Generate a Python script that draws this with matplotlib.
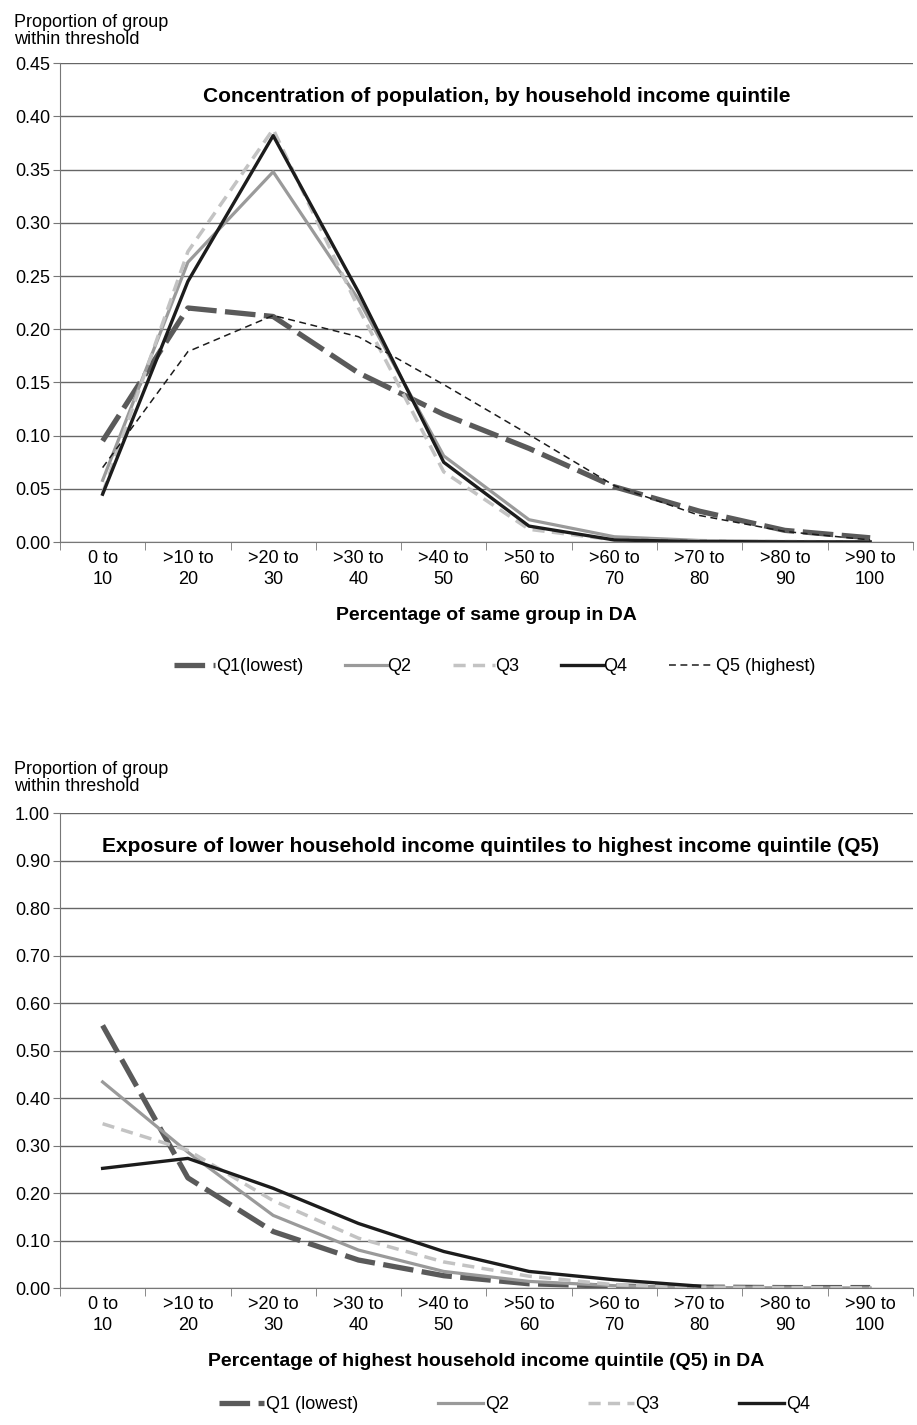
import numpy as np
import matplotlib
matplotlib.use('Agg')
import matplotlib.pyplot as plt
from matplotlib.ticker import FormatStrFormatter, FixedLocator

plt.rcParams['font.family'] = ['Liberation Sans', 'DejaVu Sans']

cats = ['0 to\n10', '>10 to\n20', '>20 to\n30', '>30 to\n40', '>40 to\n50',
        '>50 to\n60', '>60 to\n70', '>70 to\n80', '>80 to\n90', '>90 to\n100']

# concentration of population, by quintile
conc_q1 = [0.095, 0.220, 0.212, 0.159, 0.120, 0.088, 0.052, 0.029, 0.011, 0.004]
conc_q2 = [0.058, 0.263, 0.348, 0.228, 0.081, 0.021, 0.005, 0.0015, 0.0005, 0.0002]
conc_q3 = [0.046, 0.273, 0.388, 0.220, 0.066, 0.012, 0.002, 0.001, 0.0005, 0.0002]
conc_q4 = [0.045, 0.245, 0.382, 0.235, 0.075, 0.015, 0.002, 0.0005, 0.0002, 0.0001]
conc_q5 = [0.070, 0.179, 0.213, 0.193, 0.148, 0.101, 0.053, 0.025, 0.010, 0.002]

# exposure to highest quintile (Q5)
expo_q1 = [0.553, 0.232, 0.119, 0.059, 0.026, 0.009, 0.004, 0.002, 0.001, 0.001]
expo_q2 = [0.434, 0.286, 0.153, 0.080, 0.035, 0.014, 0.005, 0.001, 0.0005, 0.0002]
expo_q3 = [0.346, 0.290, 0.184, 0.105, 0.055, 0.025, 0.007, 0.002, 0.001, 0.0005]
expo_q4 = [0.252, 0.273, 0.210, 0.136, 0.077, 0.035, 0.0175, 0.004, np.nan, np.nan]

styles = {
    'q1': dict(color='#5a5a5a', lw=3.8, ls=(0, (5.8, 1.6))),
    'q2': dict(color='#9a9a9a', lw=2.3, ls='-'),
    'q3': dict(color='#c3c3c3', lw=2.5, ls=(0, (3.5, 2.1))),
    'q4': dict(color='#1c1c1c', lw=2.4, ls='-'),
    'q5': dict(color='#1c1c1c', lw=1.1, ls=(0, (4.5, 3.0))),
}

fig = plt.figure(figsize=(9.17, 14.25), dpi=100)


def setup(ax, ymax, step, title, xlabel, tx):
    x = np.arange(len(cats))
    ax.set_xlim(-0.5, len(cats) - 0.5)
    ax.set_ylim(0, ymax)
    ax.set_yticks(np.arange(0, ymax + step / 2, step))
    ax.yaxis.set_major_formatter(FormatStrFormatter('%.2f'))
    ax.set_xticks(x)
    ax.set_xticklabels(cats, fontsize=13, linespacing=1.25)
    ax.xaxis.set_minor_locator(FixedLocator(np.arange(-0.5, len(cats), 1.0)))
    ax.tick_params(axis='x', which='major', length=0, pad=6)
    ax.tick_params(axis='x', which='minor', length=6, color='#777777', direction='out')
    ax.tick_params(axis='y', length=5, color='#777777', labelsize=13, pad=2)
    for s in ['top', 'right']:
        ax.spines[s].set_visible(False)
    for s in ['left', 'bottom']:
        ax.spines[s].set_color('#777777')
    ax.grid(axis='y', color='#666666', lw=1.0)
    ax.set_axisbelow(True)
    ax.text(tx, 0.93, title, transform=ax.transAxes, ha='center', va='center',
            fontsize=15, fontweight='bold')
    ax.set_xlabel(xlabel, fontsize=14, fontweight='bold', labelpad=14)
    return x


ax1 = fig.add_axes([0.0654, 0.6196, 0.930, 0.336])
x = setup(ax1, 0.45, 0.05, 'Concentration of population, by household income quintile',
          'Percentage of same group in DA', 0.512)
ax1.plot(x, conc_q1, label='Q1(lowest)', **styles['q1'])
ax1.plot(x, conc_q2, label='Q2', **styles['q2'])
ax1.plot(x, conc_q3, label='Q3', **styles['q3'])
ax1.plot(x, conc_q4, label='Q4', **styles['q4'])
ax1.plot(x, conc_q5, label=' Q5 (highest)', **styles['q5'])
ax1.legend(loc='center', bbox_to_anchor=(0.51, -0.26), ncol=5, frameon=False,
           fontsize=13, handlelength=2.3, handletextpad=0.05, columnspacing=2.3)

ax2 = fig.add_axes([0.0654, 0.0961, 0.930, 0.3333])
x = setup(ax2, 1.0, 0.1, 'Exposure of lower household income quintiles to highest income quintile (Q5)',
          'Percentage of highest household income quintile (Q5) in DA', 0.505)
ax2.plot(x, expo_q1, label='Q1 (lowest)', **styles['q1'])
ax2.plot(x, expo_q2, label='Q2', **styles['q2'])
ax2.plot(x, expo_q3, label='Q3', **styles['q3'])
ax2.plot(x, expo_q4, label='Q4', **styles['q4'])
ax2.legend(loc='center', bbox_to_anchor=(0.533, -0.245), ncol=4, frameon=False,
           fontsize=13, handlelength=2.5, handletextpad=0.1, columnspacing=4.4)

fig.text(0.0153, 0.990, 'Proportion of group\nwithin threshold', ha='left', va='top',
         fontsize=13, linespacing=1.0)
fig.text(0.0153, 0.466, 'Proportion of group\nwithin threshold', ha='left', va='top',
         fontsize=13, linespacing=1.0)

fig.savefig('out.png', dpi=100)
